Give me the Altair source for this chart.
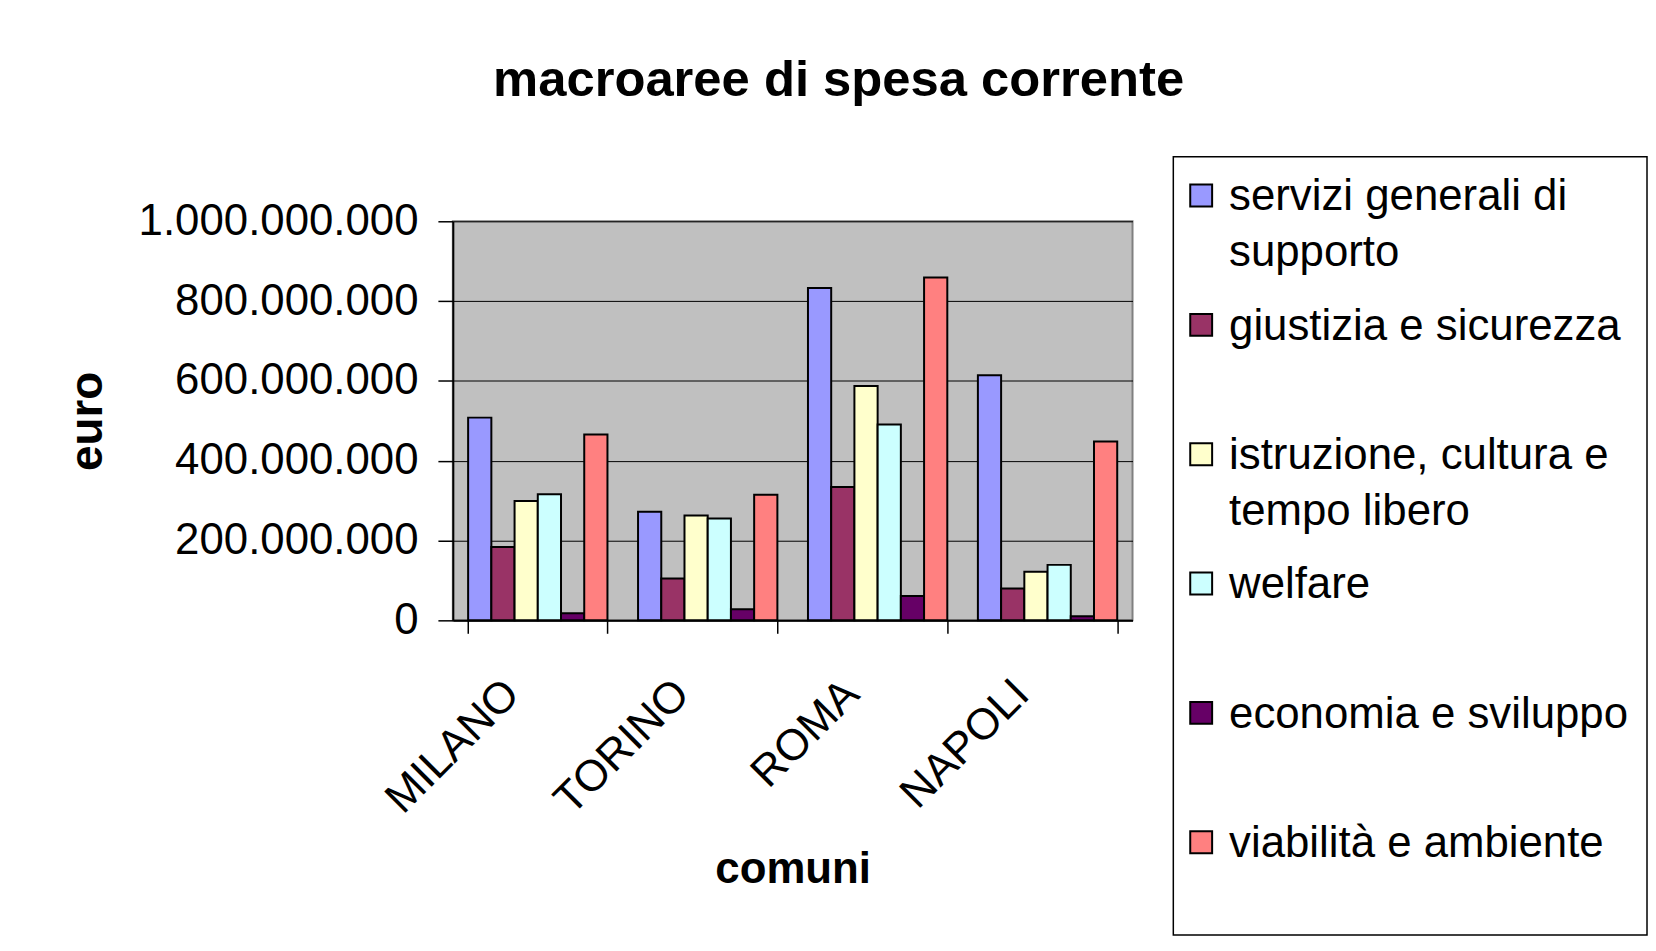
import altair as alt
import pandas as pd

comuni = ["MILANO", "TORINO", "ROMA", "NAPOLI"]
serie = [
    "servizi generali di supporto",
    "giustizia e sicurezza",
    "istruzione, cultura e tempo libero",
    "welfare",
    "economia e sviluppo",
    "viabilità e ambiente",
]
etichette = [
    "servizi generali di\nsupporto",
    "giustizia e sicurezza",
    "istruzione, cultura e\ntempo libero",
    "welfare",
    "economia e sviluppo",
    "viabilità e ambiente",
]
colori = ["#9999FF", "#993366", "#FFFFCC", "#CCFFFF", "#660066", "#FF8080"]

servizi = [508e6, 272e6, 833e6, 614e6]
giustizia = [184e6, 105e6, 334e6, 80e6]
istruzione = [299e6, 263e6, 587e6, 122e6]
welfare = [316e6, 255e6, 491e6, 139e6]
economia = [18e6, 28e6, 61e6, 10e6]
viabilita = [466e6, 315e6, 859e6, 448e6]
tick_values = [0, 200e6, 400e6, 600e6, 800e6, 1000e6]

valori = [servizi, giustizia, istruzione, welfare, economia, viabilita]
rows = []
for s, vals in zip(serie, valori):
    for c, v in zip(comuni, vals):
        rows.append({"comune": c, "serie": s, "valore": v})
df = pd.DataFrame(rows)
leg_df = pd.DataFrame({"serie": serie, "etichetta": etichette})

color_scale = alt.Scale(domain=serie, range=colori)

bars = alt.Chart(
    df, view=alt.ViewBackground(fill="#C0C0C0", stroke="#808080", strokeWidth=2)
).mark_bar(stroke="black", strokeWidth=2).encode(
    x=alt.X(
        "comune:N",
        sort=comuni,
        scale=alt.Scale(paddingInner=0.18, paddingOuter=0.09),
        axis=alt.Axis(
            title="comuni",
            labelAngle=-45,
            labelAlign="right",
            labelBaseline="middle",
            labelFontSize=44,
            labelPadding=54,
            labelOffset=-26,
            labelLimit=400,
            maxExtent=400,
            tickBand="extent",
            tickSize=13,
            tickColor="black",
            tickWidth=1.5,
            domainColor="black",
            domainWidth=2,
            titleFontSize=44,
            titleFontWeight="bold",
            titlePadding=25,
            grid=False,
        ),
    ),
    xOffset=alt.XOffset("serie:N", sort=serie, scale=alt.Scale(domain=serie)),
    y=alt.Y(
        "valore:Q",
        scale=alt.Scale(domain=[0, 1e9]),
        axis=alt.Axis(
            values=tick_values,
            labelExpr="replace(format(datum.value, ',d'), regexp(',', 'g'), '.')",
            labelFontSize=44,
            labelPadding=20,
            labelLimit=400,
            maxExtent=400,
            tickSize=15,
            tickColor="black",
            tickWidth=1.5,
            domainColor="black",
            domainWidth=2,
            gridColor="black",
            gridWidth=1,
            title="euro",
            titleFontSize=46,
            titleFontWeight="bold",
            titlePadding=27,
        ),
    ),
    color=alt.Color("serie:N", scale=color_scale, legend=None),
).properties(width=683, height=401)

y_leg = alt.Y(
    "serie:N",
    sort=serie,
    scale=alt.Scale(type="point", domain=serie, padding=0.508, align=0.295),
    axis=None,
)
leg_base = alt.Chart(leg_df)
sw = leg_base.mark_square(size=484, stroke="black", strokeWidth=2, opacity=1).encode(
    x=alt.value(28),
    y=y_leg,
    color=alt.Color("serie:N", scale=color_scale, legend=None),
)
tx = leg_base.mark_text(
    align="left", baseline="alphabetic", fontSize=44, lineBreak="\n",
    lineHeight=56, dy=15, color="black",
).encode(x=alt.value(56), y=y_leg, text="etichetta:N")
# invisible spacer layer: an empty bottom axis that only reserves room below the legend box
spacer = leg_base.mark_point(opacity=0).encode(
    x=alt.X(
        "serie:N",
        sort=serie,
        axis=alt.Axis(
            title=" ",
            titleColor="transparent",
            titleFontSize=21,
            titlePadding=0,
            labels=False,
            ticks=False,
            domain=False,
            grid=False,
        ),
    ),
    y=y_leg,
)
legend = alt.layer(
    sw, tx, spacer,
    view=alt.ViewBackground(fill="white", stroke="black", strokeWidth=1.5),
).properties(width=476, height=782)

chart = alt.hconcat(
    bars,
    legend,
    spacing=39,
    center=True,
    title=alt.Title(
        "macroaree di spesa corrente",
        fontSize=51,
        fontWeight="bold",
        anchor="middle",
        baseline="alphabetic",
        dx=-17,
        offset=9,
        color="black",
    ),
).properties(
    padding={"left": 55, "top": 45, "right": 0, "bottom": 0},
    background="white",
).configure(font="Liberation Sans").configure_axis(
    labelColor="black", titleColor="black"
)

chart.save("out.html", embed_options={"renderer": "svg", "actions": False})
